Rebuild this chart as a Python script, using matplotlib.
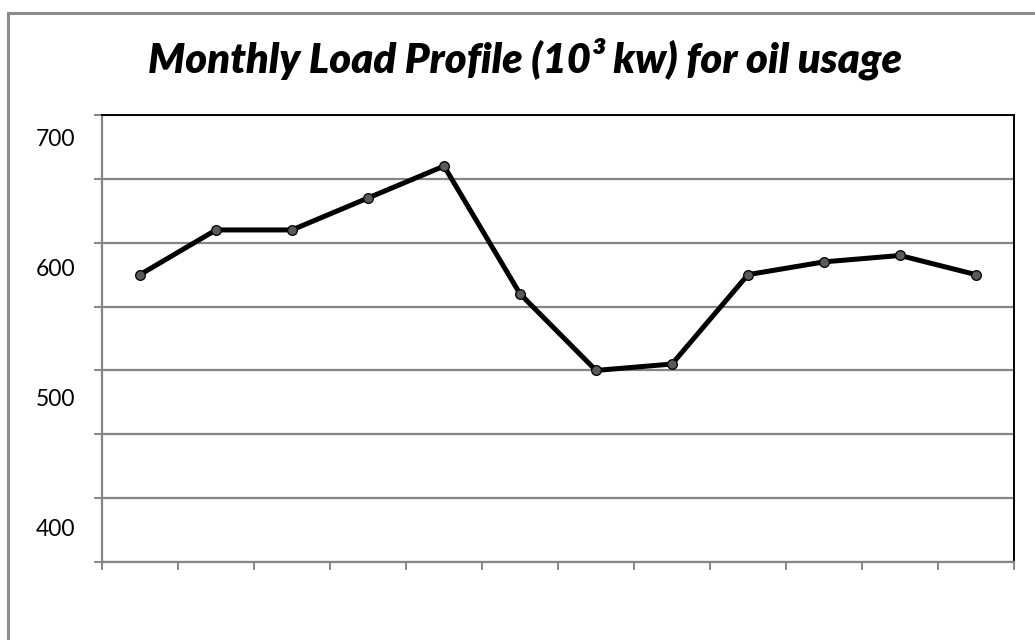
import numpy as np
import matplotlib
matplotlib.use('Agg')
import matplotlib.pyplot as plt
from matplotlib.patches import Rectangle
from matplotlib.transforms import ScaledTranslation

# monthly load profile (10^3 kw)
months = list(range(12))
load = [575, 610, 610, 635, 660, 560, 500, 505, 575, 585, 590, 575]

y_grid = [350, 400, 450, 500, 550, 600, 650, 700]
y_labels = ['', '400', '', '500', '', '600', '', '700']

plt.rcParams['font.family'] = ['Lato', 'DejaVu Sans']

W, H = 1035, 640
fig = plt.figure(figsize=(W / 100, H / 100), dpi=100)
ax = fig.add_axes([102 / W, 1 - 562 / H, 912 / W, 447 / H])

grey = '#868686'

ax.plot(months, load, '-o', color='black', lw=3.6, markersize=7,
        markerfacecolor='#595959', markeredgecolor='black', markeredgewidth=0.9,
        zorder=3)

ax.set_xlim(-0.5, 11.5)
ax.set_ylim(350, 700)
ax.set_xticks(np.arange(-0.5, 12, 1))
ax.set_xticklabels([])
ax.set_yticks(y_grid)
ax.set_yticklabels(y_labels, fontsize=16.5)
ax.yaxis.grid(True, color=grey, lw=1.6)
ax.set_axisbelow(True)

ax.tick_params(axis='both', direction='out', length=6, width=1.4, color=grey)
ax.tick_params(axis='y', pad=13)

# the value labels sit a little below their gridlines in the original
for lab, v in zip(ax.get_yticklabels(), y_grid):
    dy = (22 + 2.3 * (700 - v) / 100) / 100
    lab.set_transform(lab.get_transform() + ScaledTranslation(0, -dy, fig.dpi_scale_trans))

ax.spines['left'].set_color(grey)
ax.spines['bottom'].set_color(grey)
ax.spines['left'].set_linewidth(1.6)
ax.spines['bottom'].set_linewidth(1.6)
ax.spines['top'].set_color('black')
ax.spines['right'].set_color('black')
ax.spines['top'].set_linewidth(1.4)
ax.spines['right'].set_linewidth(1.4)

fig.text(525 / W, 1 - 73 / H, 'Monthly Load Profile (10\u00b3 kw) for oil usage',
         ha='center', va='baseline', fontsize=30, fontweight='heavy', fontstyle='italic')

# chart frame (only the top and left edges fall inside the picture)
fig.patches.append(Rectangle((8 / W, -0.1), 1.2, 1 - 13 / H + 0.1,
                             transform=fig.transFigure, fill=False,
                             edgecolor='#8c8c8c', lw=2.2))

fig.savefig('out.png', dpi=100)
